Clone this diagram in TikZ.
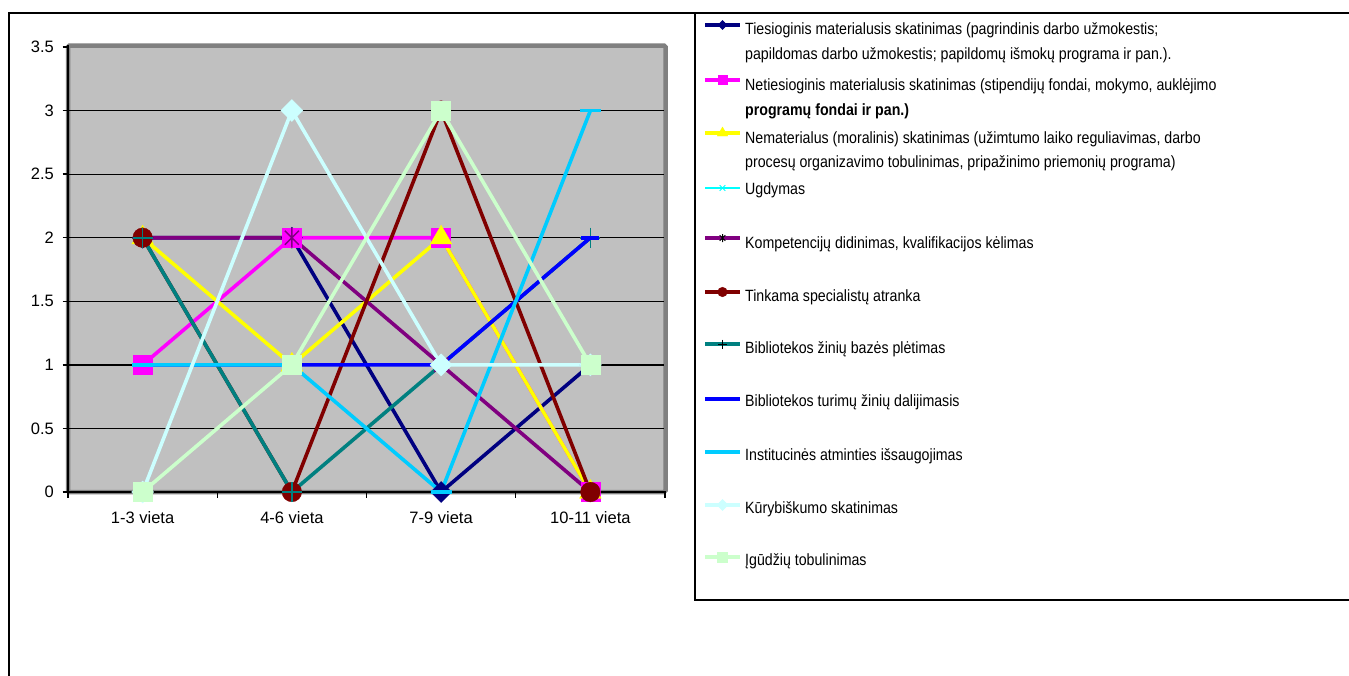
\documentclass[tikz,border=0pt]{standalone}
\usepackage{fontspec}
\setmainfont{Liberation Sans}
\newfontfamily\legendfont{Liberation Sans}[FakeStretch=0.87]
\usetikzlibrary{plotmarks}

\definecolor{navyc}{HTML}{000080}
\definecolor{magentac}{HTML}{FF00FF}
\definecolor{yellowc}{HTML}{FFFF00}
\definecolor{cyanc}{HTML}{00FFFF}
\definecolor{purplec}{HTML}{800080}
\definecolor{maroonc}{HTML}{800000}
\definecolor{tealc}{HTML}{008080}
\definecolor{bluec}{HTML}{0000FF}
\definecolor{skyc}{HTML}{00CCFF}
\definecolor{paleturq}{HTML}{CCFFFF}
\definecolor{palegreen}{HTML}{CCFFCC}
\definecolor{plotbg}{HTML}{C0C0C0}
\definecolor{plotedge}{HTML}{808080}

% square diamond, vertical-and-diagonal star, flat dash
\pgfdeclareplotmark{ldiamond}{%
  \pgfpathmoveto{\pgfqpoint{0pt}{\pgfplotmarksize}}%
  \pgfpathlineto{\pgfqpoint{\pgfplotmarksize}{0pt}}%
  \pgfpathlineto{\pgfqpoint{0pt}{-\pgfplotmarksize}}%
  \pgfpathlineto{\pgfqpoint{-\pgfplotmarksize}{0pt}}%
  \pgfpathclose\pgfusepathqfillstroke}
\pgfdeclareplotmark{lstar}{%
  \pgfpathmoveto{\pgfqpoint{0pt}{\pgfplotmarksize}}%
  \pgfpathlineto{\pgfqpoint{0pt}{-\pgfplotmarksize}}%
  \pgfpathmoveto{\pgfqpoint{-.7\pgfplotmarksize}{.7\pgfplotmarksize}}%
  \pgfpathlineto{\pgfqpoint{.7\pgfplotmarksize}{-.7\pgfplotmarksize}}%
  \pgfpathmoveto{\pgfqpoint{-.7\pgfplotmarksize}{-.7\pgfplotmarksize}}%
  \pgfpathlineto{\pgfqpoint{.7\pgfplotmarksize}{.7\pgfplotmarksize}}%
  \pgfusepathqstroke}
\pgfdeclareplotmark{ldash}{%
  \pgfpathmoveto{\pgfqpoint{-\pgfplotmarksize}{0pt}}%
  \pgfpathlineto{\pgfqpoint{\pgfplotmarksize}{0pt}}%
  \pgfusepathqstroke}

\begin{document}
\begin{tikzpicture}[x=1pt,y=-1pt,
  axislabel/.style={font=\fontsize{16.5}{20}\selectfont, inner sep=0pt},
  legendtext/.style={font=\legendfont\fontsize{16.3}{20}\selectfont, anchor=base west, inner sep=0pt},
  gridline/.style={black, line width=1.3pt},
  axisline/.style={black, line width=1.8pt},
  frameline/.style={black, line width=1.8pt},
  serline/.style={line width=3.6pt, line join=round},
  s1/.style={serline, draw=navyc},
  s2/.style={serline, draw=magentac},
  s3/.style={serline, draw=yellowc},
  s4/.style={line width=1.3pt, draw=cyanc},
  s5/.style={serline, draw=purplec},
  s6/.style={serline, draw=maroonc},
  s7/.style={serline, draw=tealc},
  s8/.style={serline, draw=bluec},
  s9/.style={serline, draw=skyc},
  s10/.style={serline, draw=paleturq},
  s11/.style={serline, draw=palegreen},
  m1/.style={mark=ldiamond, mark size=10.5pt, mark options={fill=navyc, draw=navyc, line width=0.4pt}},
  m2/.style={mark=square*, mark size=9.5pt, mark options={fill=magentac, draw=magentac, line width=0.4pt}},
  m3/.style={mark=triangle*, mark size=12.5pt, mark options={fill=yellowc, draw=yellowc, line width=0.4pt}},
  m4/.style={mark=x, mark size=4pt, mark options={draw=cyanc, line width=1pt}},
  m5/.style={mark=lstar, mark size=10pt, mark options={draw=purplec, line width=1.5pt}},
  m6/.style={mark=*, mark size=9.8pt, mark options={fill=maroonc, draw=maroonc, line width=0.4pt}},
  m7/.style={mark=+, mark size=10pt, mark options={draw=tealc, line width=1.7pt}},
  m8/.style={mark=ldash, mark size=9pt, mark options={draw=bluec, line width=3.6pt}},
  m9/.style={mark=ldash, mark size=10.5pt, mark options={draw=skyc, line width=3.6pt}},
  m10/.style={mark=ldiamond, mark size=11pt, mark options={fill=paleturq, draw=paleturq, line width=0.4pt}},
  m11/.style={mark=square*, mark size=9.5pt, mark options={fill=palegreen, draw=palegreen, line width=0.4pt}},
]
\useasboundingbox (0,0) rectangle (1349,675);
\fill[white] (0,0) rectangle (1349,675);

% chart frame and legend box
\draw[frameline] (9,680) -- (9,13) -- (1355,13);
\draw[frameline] (1355,600) -- (695,600) -- (695,13);

% plot area
\draw[plotedge, line width=4.5pt, fill=plotbg, rounded corners=1.5pt] (68,45.5) rectangle (665.5,492);
\foreach \v in {0.5,1,...,3}
  \draw[gridline] (68,{492-127.14*\v}) -- (663.5,{492-127.14*\v});
\draw[axisline] (68,45) -- (68,492) -- (666,492);
\foreach \v in {0,0.5,...,3.5}
  \draw[axisline, line width=1.4pt] (62.5,{492-127.14*\v}) -- (68,{492-127.14*\v});
\foreach \x in {68,217.25,366.5,515.75,665}
  \draw[axisline, line width=1.4pt] (\x,492) -- (\x,497.5);

% value axis labels
\node[axislabel, anchor=east] (y0) at (54,492) {0};
\node[axislabel, anchor=east] (y1) at (54,428.4) {0.5};
\node[axislabel, anchor=east] (y2) at (54,364.9) {1};
\node[axislabel, anchor=east] (y3) at (54,301.3) {1.5};
\node[axislabel, anchor=east] (y4) at (54,237.7) {2};
\node[axislabel, anchor=east] (y5) at (54,174.2) {2.5};
\node[axislabel, anchor=east] (y6) at (54,110.6) {3};
\node[axislabel, anchor=east] (y7) at (54,47) {3.5};

% category labels
\node[axislabel] (c1) at (142.6,518) {1-3 vieta};
\node[axislabel] (c2) at (291.9,518) {4-6 vieta};
\node[axislabel] (c3) at (441.1,518) {7-9 vieta};
\node[axislabel] (c4) at (590.4,518) {10-11 vieta};

% data series: lines first, then markers
\begin{scope}[shift={(68,492)}, x=149.25pt, y=127.14pt]
  \draw[s1] plot coordinates {(0.5,2) (1.5,2) (2.5,0) (3.5,1)};
  \draw[s2] plot coordinates {(0.5,1) (1.5,2) (2.5,2) (3.5,0)};
  \draw[s3] plot coordinates {(0.5,2) (1.5,1) (2.5,2) (3.5,0)};
  \draw[s5] plot coordinates {(0.5,2) (1.5,2) (2.5,1) (3.5,0)};
  \draw[s6] plot coordinates {(0.5,2) (1.5,0) (2.5,3) (3.5,0)};
  \draw[s7] plot coordinates {(0.5,2) (1.5,0) (2.5,1) (3.5,2)};
  \draw[s8] plot coordinates {(0.5,1) (1.5,1) (2.5,1) (3.5,2)};
  \draw[s9] plot coordinates {(0.5,1) (1.5,1) (2.5,0) (3.5,3)};
  \draw[s10] plot coordinates {(0.5,0) (1.5,3) (2.5,1) (3.5,1)};
  \draw[s11] plot coordinates {(0.5,0) (1.5,1) (2.5,3) (3.5,1)};

  \path[m1] plot[only marks] coordinates {(0.5,2) (1.5,2) (2.5,0) (3.5,1)};
  \path[m2] plot[only marks] coordinates {(0.5,1) (1.5,2) (2.5,2) (3.5,0)};
  \path[m3] plot[only marks] coordinates {(0.5,2) (1.5,1) (2.5,2) (3.5,0)};
  \path[m5] plot[only marks] coordinates {(0.5,2) (1.5,2) (2.5,1) (3.5,0)};
  \path[m6] plot[only marks] coordinates {(0.5,2) (1.5,0) (2.5,3) (3.5,0)};
  \path[m7] plot[only marks] coordinates {(0.5,2) (1.5,0) (2.5,1) (3.5,2)};
  \path[m8] plot[only marks] coordinates {(0.5,1) (1.5,1) (2.5,1) (3.5,2)};
  \path[m9] plot[only marks] coordinates {(0.5,1) (1.5,1) (2.5,0) (3.5,3)};
  \path[m10] plot[only marks] coordinates {(0.5,0) (1.5,3) (2.5,1) (3.5,1)};
  \path[m11] plot[only marks] coordinates {(0.5,0) (1.5,1) (2.5,3) (3.5,1)};
\end{scope}

% legend keys
\draw[s1, line width=4.5pt] (705,25) -- (740,25);
\path[m1, mark size=4.5pt] plot[only marks] coordinates {(722.5,25)};
\draw[s2, line width=4.5pt] (705,80) -- (740,80);
\path[m2, mark size=4.5pt] plot[only marks] coordinates {(722.5,80)};
\draw[s3, line width=4.5pt] (705,133) -- (740,133);
\path[m3, mark size=6pt] plot[only marks] coordinates {(722.5,133)};
\draw[s4] (705,188) -- (740,188);
\path[m4] plot[only marks] coordinates {(722.5,188)};
\draw[s5, line width=4.5pt] (705,238) -- (740,238);
\path[m5, mark size=4pt, mark options={line width=1pt}] plot[only marks] coordinates {(722.5,238)};
\draw[s6, line width=4.5pt] (705,292) -- (740,292);
\path[m6, mark size=4.8pt] plot[only marks] coordinates {(722.5,292)};
\draw[s7, line width=4.5pt] (705,344) -- (740,344);
\path[m7, mark size=4.5pt, mark options={line width=1pt}] plot[only marks] coordinates {(722.5,344)};
\draw[s8, line width=4.5pt] (705,399) -- (740,399);
\draw[s9, line width=4.5pt] (705,452) -- (740,452);
\draw[s10, line width=4.5pt] (705,505) -- (740,505);
\path[m10, mark size=5.5pt] plot[only marks] coordinates {(722.5,505)};
\draw[s11, line width=4.5pt] (705,557) -- (740,557);
\path[m11, mark size=5pt] plot[only marks] coordinates {(722.5,557)};

% legend texts
\node[legendtext] (l1a) at (745,34) {Tiesioginis materialusis skatinimas (pagrindinis darbo užmokestis;};
\node[legendtext] (l1b) at (745,59) {papildomas darbo užmokestis; papildomų išmokų programa ir pan.).};
\node[legendtext] (l2a) at (745,90) {Netiesioginis materialusis skatinimas (stipendijų fondai, mokymo, auklėjimo};
\node[legendtext, font=\legendfont\bfseries\fontsize{16.3}{20}\selectfont] (l2b) at (745,115) {programų fondai ir pan.)};
\node[legendtext] (l3a) at (745,143) {Nematerialus (moralinis) skatinimas (užimtumo laiko reguliavimas, darbo};
\node[legendtext] (l3b) at (745,167) {procesų organizavimo tobulinimas, pripažinimo priemonių programa)};
\node[legendtext] (l4) at (745,194) {Ugdymas};
\node[legendtext] (l5) at (745,248) {Kompetencijų didinimas, kvalifikacijos kėlimas};
\node[legendtext] (l6) at (745,301) {Tinkama specialistų atranka};
\node[legendtext] (l7) at (745,353) {Bibliotekos žinių bazės plėtimas};
\node[legendtext] (l8) at (745,406) {Bibliotekos turimų žinių dalijimasis};
\node[legendtext] (l9) at (745,460) {Institucinės atminties išsaugojimas};
\node[legendtext] (l10) at (745,513) {Kūrybiškumo skatinimas};
\node[legendtext] (l11) at (745,565) {Įgūdžių tobulinimas};
\end{tikzpicture}
\end{document}
